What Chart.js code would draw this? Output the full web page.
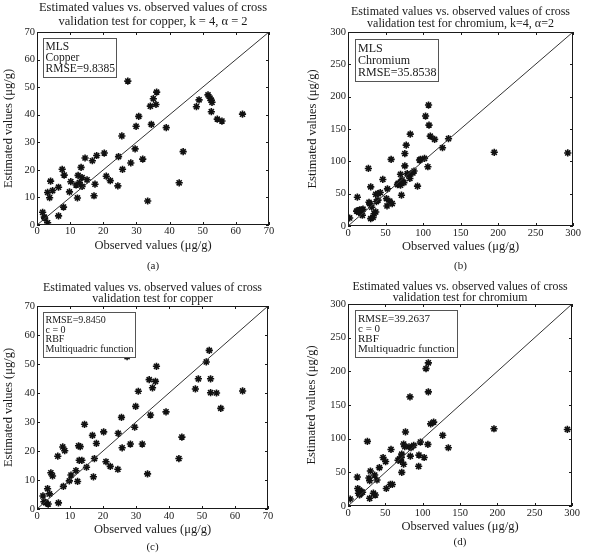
<!DOCTYPE html>
<html>
<head>
<meta charset="utf-8">
<script src="https://cdn.jsdelivr.net/npm/chart.js@4.4.1/dist/chart.umd.min.js"></script>
<style>
    body { margin: 0; background: #fff; }
    #fig { position: relative; width: 590px; height: 557px; }
    #fig canvas { position: absolute; }
</style>
</head>
<body>
<div id="fig">
    <canvas id="pa" width="295" height="275" style="left:0;top:0"></canvas>
    <canvas id="pb" width="295" height="275" style="left:295px;top:0"></canvas>
    <canvas id="pc" width="295" height="282" style="left:0;top:275px"></canvas>
    <canvas id="pd" width="295" height="282" style="left:295px;top:275px"></canvas>
</div>
<script>
// --- data ---
const cuTicks = [0, 10, 20, 30, 40, 50, 60, 70]
const crTicks = [0, 50, 100, 150, 200, 250, 300]

// (a) copper, MLS
const cuObsMls = [1.7, 2.2, 2.3, 3.2, 3.2, 3.8, 4.1, 4.7, 6.5, 6.5, 7.6, 8.0, 8.2, 9.8, 10.2, 11.8, 12.2, 12.4, 12.8, 13.3,
    13.6, 13.6, 14.5, 15.1, 16.7, 17.2, 17.5, 18.0, 20.3, 20.9, 22.1, 24.4, 24.6, 25.6, 25.8, 27.4, 28.3, 29.6, 29.9, 30.7,
    31.9, 33.4, 34.2, 34.5, 35.1, 35.9, 36.1, 39.0, 42.9, 44.1, 48.1, 48.9, 51.6, 52.2, 52.6, 52.8, 52.6, 54.4, 55.8, 62.0]
const cuEstMls = [4.6, 2.9, 2.5, 0.8, 11.8, 9.9, 15.9, 12.5, 3.3, 13.7, 20.2, 6.5, 18.1, 12.0, 15.7, 14.5, 9.8, 18.0, 15.4, 20.9,
    17.2, 14.0, 24.3, 16.4, 23.3, 10.6, 14.8, 25.2, 26.1, 17.7, 16.1, 14.2, 24.8, 32.3, 20.2, 52.2, 22.5, 27.6, 35.8, 39.4,
    23.9, 8.7, 43.1, 36.5, 45.8, 43.7, 48.2, 35.3, 15.3, 26.6, 42.9, 45.4, 47.2, 46.0, 45.2, 44.5, 41.1, 38.4, 37.7, 40.2]

// (b) chromium, MLS
const crObsMls = [2.2, 12.5, 11.5, 13.5, 15.5, 17.5, 14.5, 16.5, 18.5, 19.2, 20, 27.2, 28, 29, 30.3, 30.3, 33.4, 31.7, 34.8, 37,
    37, 40, 37.9, 40, 43, 46.4, 51.3, 52, 52.6, 55.7, 58.9, 57.5, 66, 67, 70, 72, 70, 71, 71.3, 74.5,
    75.8, 75.8, 77.6, 79, 81, 83, 82.5, 86.5, 88, 92.7, 95.4, 96.7, 102, 103.4, 106.5, 107.4, 108, 109.7, 115.5, 126,
    134, 195, 293]
const crEstMls = [12.4, 44.5, 23, 24, 25, 24, 21, 21, 25, 16.6, 26, 89, 36.7, 34.7, 60.5, 11.4, 13.4, 29, 19, 21.7,
    49, 50, 37.8, 40, 51.7, 72, 42.4, 31, 57.4, 38.3, 34.7, 103, 64, 66, 63, 71, 80, 69, 47.6, 67,
    112, 93, 125, 81, 78.6, 142, 73.5, 82, 85, 61.6, 102, 103, 104.5, 170, 91.6, 187, 156, 139, 134, 121,
    135, 114, 113]

// (c) copper, RBF
const cuObsRbf = [1.8, 2.1, 2.6, 3.2, 3.4, 3.8, 4.2, 4.7, 6.5, 6.3, 7.8, 8.0, 8.4, 9.8, 10.3, 11.8, 12.3, 12.6, 13.1, 12.8,
    13.6, 14.4, 15.0, 16.8, 17.1, 17.4, 18.0, 20.2, 20.9, 22.2, 24.5, 24.6, 25.6, 25.8, 27.3, 28.3, 29.6, 29.9, 30.7, 31.9,
    33.5, 34.0, 34.4, 35.0, 35.9, 36.2, 39.1, 43.0, 43.9, 48.0, 48.9, 51.3, 52.2, 52.6, 52.6, 54.4, 55.7, 62.3]
const cuEstRbf = [4.5, 2.5, 2.2, 7.0, 1.7, 5.2, 12.5, 11.4, 2.1, 18.2, 21.4, 7.8, 20.1, 9.7, 11.7, 13.2, 9.5, 21.8, 21.5, 16.8,
    16.8, 29.2, 14.4, 25.4, 11.1, 17.4, 22.6, 26.6, 16.3, 14.7, 13.7, 26.1, 31.6, 21.1, 52.5, 22.4, 28.2, 35.4, 40.6, 22.4,
    12.1, 44.6, 32.4, 41.8, 44.0, 49.2, 33.5, 17.4, 24.8, 41.4, 44.9, 50.7, 54.7, 44.9, 40.1, 40.0, 34.7, 40.7]

// (d) chromium, RBF
const crObsRbf = [3, 12.5, 13, 15.5, 17.5, 14, 17, 19.5, 15.5, 26, 28, 29, 30, 29, 34, 36.6, 35.7, 38.8, 42, 47,
    50.4, 51.3, 56.7, 59.4, 57.6, 67, 69, 70.5, 71.4, 72, 72, 74.5, 74.5, 76, 77, 83, 81.7, 84.4, 88, 83.5,
    94.6, 97, 95, 102, 104.5, 107.6, 107.6, 107, 110.7, 114.7, 126.8, 134.4, 195.5, 293.8]
const crEstRbf = [10.4, 43, 26, 23.5, 21, 19, 18.5, 20.5, 16.5, 96, 41.5, 37.5, 52, 11.4, 19, 16.3, 46, 38.6, 57, 72,
    66, 26, 32, 32, 84, 68, 70, 67, 72, 77, 50, 62, 92, 88, 110, 162, 88, 86.5, 90, 74,
    59, 95, 75.6, 72, 204, 212.6, 169.5, 91.5, 122, 124.6, 105, 86.5, 114.7, 113.7]

const SERIF = "'Liberation Serif', 'DejaVu Serif', serif"
const INK   = '#1a1a1a'

Chart.defaults.font.family = SERIF
Chart.defaults.color       = INK

// MATLAB-like box with inward ticks, plus the text box in the upper left
const frame = {
    id: 'frame',
    afterDatasetsDraw(chart, args, opts) {
        const ctx = chart.ctx
        const a   = chart.chartArea
        const sx  = chart.scales.x
        const sy  = chart.scales.y

        ctx.save()
        ctx.strokeStyle = INK
        ctx.lineWidth   = 1
        ctx.strokeRect(Math.round(a.left) + .5, Math.round(a.top) + .5, Math.round(a.width) - 1, Math.round(a.height) - 1)

        ctx.beginPath()
        sx.ticks.forEach((t) => {
            let p = Math.round(sx.getPixelForValue(t.value)) + .5
            ctx.moveTo(p, a.bottom); ctx.lineTo(p, a.bottom - 3)
            ctx.moveTo(p, a.top);    ctx.lineTo(p, a.top + 3)
        })
        sy.ticks.forEach((t) => {
            let p = Math.round(sy.getPixelForValue(t.value)) + .5
            ctx.moveTo(a.left, p);  ctx.lineTo(a.left + 3, p)
            ctx.moveTo(a.right, p); ctx.lineTo(a.right - 3, p)
        })
        ctx.stroke()

        // info box
        ctx.font = opts.size + 'px ' + SERIF
        let w = 0
        opts.lines.forEach((l) => { w = Math.max(w, ctx.measureText(l).width) })
        let bx = Math.round(a.left + opts.dx) + .5
        let by = Math.round(a.top + opts.dy) + .5
        let bw = Math.round(w + 2 * opts.pad)
        let bh = Math.round(opts.lines.length * opts.gap + 6)
        ctx.fillStyle = '#fff'
        ctx.fillRect(bx, by, bw, bh)
        ctx.strokeStyle = '#555'
        ctx.strokeRect(bx, by, bw, bh)
        ctx.fillStyle    = INK
        ctx.textBaseline = 'middle'
        opts.lines.forEach((l, i) => {
            ctx.fillText(l, bx + opts.pad, by + 3 + opts.gap * (i + .5))
        })
        ctx.restore()
    }
}

function panel(id, p) {
    let points = p.obs.map((x, i) => ({ x: x, y: p.est[i] }))
    let top    = p.ticks[p.ticks.length - 1]

    return new Chart(document.getElementById(id), {
        type: 'scatter',
        data: {
            datasets: [
                {
                    data: [{ x: 0, y: 0 }, { x: top, y: top }],
                    showLine: true,
                    borderColor: '#333',
                    borderWidth: 1,
                    pointRadius: 0
                },
                {
                    data: points,
                    pointStyle: 'star',
                    pointRadius: 3.6,
                    borderColor: '#111',
                    backgroundColor: '#111',
                    pointBorderWidth: 1.6
                }
            ]
        },
        options: {
            responsive: false,
            animation: false,
            devicePixelRatio: 1,
            layout: { padding: { left: 0, right: p.right, top: 0, bottom: 0 } },
            plugins: {
                legend: { display: false },
                tooltip: { enabled: false },
                title: {
                    display: true,
                    fullSize: false,
                    text: p.title,
                    color: INK,
                    font: { size: p.titleSize, weight: 'normal', lineHeight: p.titleLh + 'px' },
                    padding: { top: p.titlePad[0], bottom: p.titlePad[1] }
                },
                subtitle: {
                    display: true,
                    fullSize: false,
                    position: 'bottom',
                    text: p.caption,
                    color: INK,
                    font: { size: 11, lineHeight: 1.2 },
                    padding: { top: 0, bottom: p.capPad }
                },
                frame: p.box
            },
            scales: {
                x: {
                    type: 'linear',
                    min: 0,
                    max: top,
                    afterBuildTicks: (s) => { s.ticks = p.ticks.map((v) => ({ value: v })) },
                    afterFit: (s) => { s.height = p.xH },
                    grid: { display: false, drawTicks: false },
                    border: { display: false },
                    ticks: { padding: p.xTickPad, font: { size: 10.5 }, color: INK, maxRotation: 0 },
                    title: {
                        display: true,
                        text: 'Observed values (μg/g)',
                        color: INK,
                        font: { size: 12.5, lineHeight: 1.2 },
                        padding: { top: 0, bottom: p.xTitlePad }
                    }
                },
                y: {
                    type: 'linear',
                    min: 0,
                    max: top,
                    afterBuildTicks: (s) => { s.ticks = p.ticks.map((v) => ({ value: v })) },
                    afterFit: (s) => { s.width = p.yW },
                    grid: { display: false, drawTicks: false },
                    border: { display: false },
                    ticks: { padding: 2, font: { size: 10.5 }, color: INK },
                    title: {
                        display: true,
                        text: 'Estimated values (μg/g)',
                        color: INK,
                        font: { size: 12.5, lineHeight: 1.2 },
                        padding: { top: p.yTitlePad, bottom: 0 }
                    }
                }
            }
        },
        plugins: [frame]
    })
}

panel('pa', {
    obs: cuObsMls, est: cuEstMls, ticks: cuTicks,
    title: ['Estimated values vs. observed values of cross', 'validation test for copper, k = 4, α = 2'],
    caption: '(a)',
    titleSize: 12.5, titleLh: 14, titlePad: [1, 3],
    right: 26, yW: 37, yTitlePad: 1, xH: 34.4, xTickPad: 0, xTitlePad: 6, capPad: 2.4,
    box: { lines: ['MLS', 'Copper', 'RMSE=9.8385'], size: 11.5, gap: 11, pad: 2, dx: 6, dy: 6 }
})

panel('pb', {
    obs: crObsMls, est: crEstMls, ticks: crTicks,
    title: ['Estimated values vs. observed values of cross', 'validation test for chromium, k=4, α=2'],
    caption: '(b)',
    titleSize: 12, titleLh: 12.5, titlePad: [5.5, 1.5],
    right: 17, yW: 53, yTitlePad: 9.8, xH: 33.4, xTickPad: 1, xTitlePad: 5.2, capPad: 2.4,
    box: { lines: ['MLS', 'Chromium', 'RMSE=35.8538'], size: 12, gap: 12, pad: 2.5, dx: 7, dy: 7 }
})

panel('pc', {
    obs: cuObsRbf, est: cuEstRbf, ticks: cuTicks,
    title: ['Estimated values vs. observed values of cross', 'validation test for copper'],
    caption: '(c)',
    titleSize: 12, titleLh: 11.5, titlePad: [7, 1],
    right: 27, yW: 37, yTitlePad: 1, xH: 31.4, xTickPad: 1.4, xTitlePad: 3.2, capPad: 3.4,
    box: { lines: ['RMSE=9.8450', 'c = 0', 'RBF', 'Multiquadric function'], size: 10, gap: 9.7, pad: 2, dx: 6, dy: 6 }
})

panel('pd', {
    obs: crObsRbf, est: crEstRbf, ticks: crTicks,
    title: ['Estimated values vs. observed values of cross', 'validation test for chromium'],
    caption: '(d)',
    titleSize: 11.8, titleLh: 11, titlePad: [6.5, 0.5],
    right: 18, yW: 53, yTitlePad: 9.5, xH: 29.4, xTickPad: 1.4, xTitlePad: 1.2, capPad: 8.4,
    box: { lines: ['RMSE=39.2637', 'c = 0', 'RBF', 'Multiquadric function'], size: 11, gap: 10.3, pad: 2.5, dx: 7, dy: 6 }
})
</script>
</body>
</html>
